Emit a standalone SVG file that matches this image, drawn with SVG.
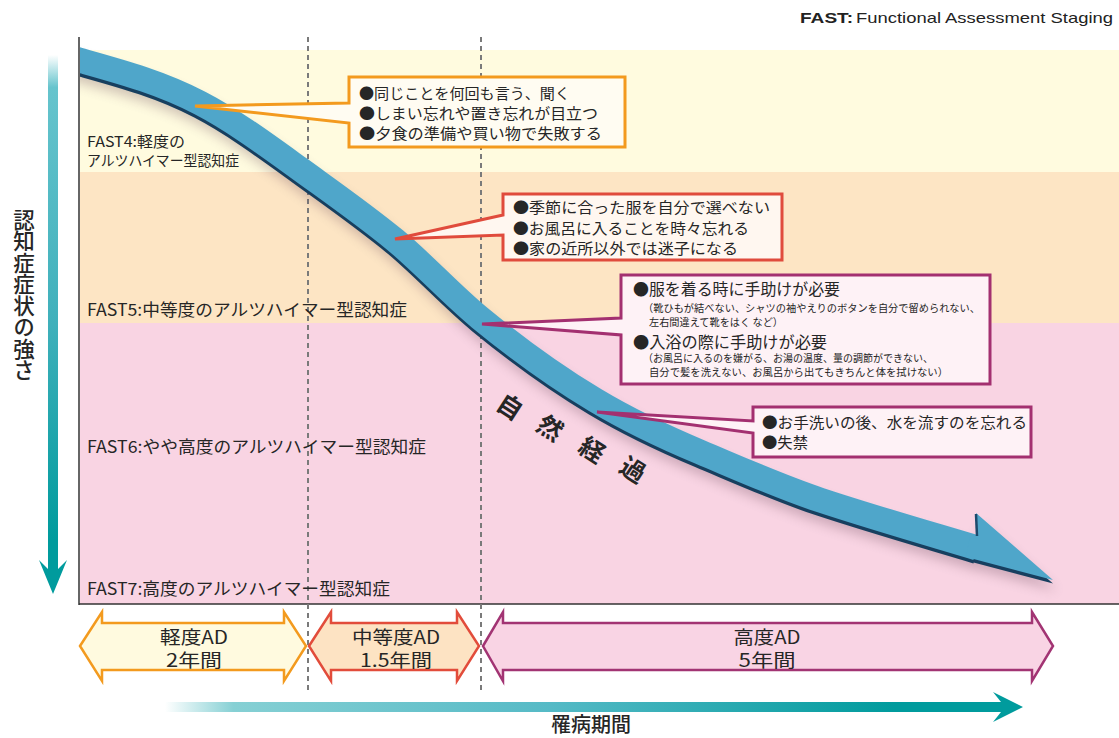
<svg xmlns="http://www.w3.org/2000/svg" width="1119" height="738" viewBox="0 0 1119 738">
<style>
.jp{font-family:'Noto Sans CJK JP','Noto Sans',sans-serif;fill:#262626}
.stage{font-size:17px}
.call{font-size:15px}
.sub{font-size:10.5px}
.rng{font-size:18px}
.dash{stroke:#7a7a7a;stroke-width:2;stroke-dasharray:5 4;fill:none}
</style>
<defs>
<linearGradient id="gv" x1="0" y1="55" x2="0" y2="594" gradientUnits="userSpaceOnUse">
<stop offset="0" stop-color="#ffffff"/>
<stop offset="0.06" stop-color="#66c4cd"/>
<stop offset="0.5" stop-color="#3fb0bb"/>
<stop offset="0.9" stop-color="#009b9d"/>
<stop offset="1" stop-color="#009b9d"/>
</linearGradient>
<linearGradient id="gh" x1="165" y1="0" x2="1023" y2="0" gradientUnits="userSpaceOnUse">
<stop offset="0" stop-color="#ffffff"/>
<stop offset="0.08" stop-color="#86d0d4"/>
<stop offset="0.45" stop-color="#55bac6"/>
<stop offset="0.85" stop-color="#009b9d"/>
<stop offset="1" stop-color="#009b9d"/>
</linearGradient>
<clipPath id="chart"><rect x="80" y="37" width="1039" height="566"/></clipPath>
<filter id="blur" x="-10%" y="-10%" width="120%" height="130%"><feGaussianBlur stdDeviation="6"/></filter>
<path id="curve" d="M60,54.5 L79,60 C119.3,71.3 159.7,82 200,103 C233.3,120.3 266.7,145 300,169 C331.7,192 363.3,214 395,240 C423.3,263.5 451.7,294.8 480,318 C518.3,349.4 556.7,377 595,400 C630,421 665,437.3 700,452 C740,468.8 780,486.8 820,500 C872.3,517.3 924.7,532.3 977,548"/>
<path id="head" d="M976,513 L1053,580 L966,557 L970,536 L977,536 Z"/>
</defs>

<!-- bands -->
<g id="bands">
<rect x="80" y="50" width="1039" height="122" fill="#fffbdf"/>
<rect x="80" y="172" width="1039" height="151" fill="#fde5c4"/>
<rect x="80" y="323" width="1039" height="281" fill="#f9d4e3"/>
</g>

<!-- axes -->
<g id="axes">
<line x1="79" y1="37" x2="79" y2="605" stroke="#333" stroke-width="1.5"/>
<line x1="79" y1="604" x2="1119" y2="604" stroke="#333" stroke-width="1.5"/>
<line class="dash" x1="308" y1="37" x2="308" y2="690"/>
<line class="dash" x1="481" y1="37" x2="481" y2="690"/>
</g>

<!-- stage labels -->
<g id="stages" class="jp">
<text x="87" y="147" font-size="14.5" textLength="98" lengthAdjust="spacingAndGlyphs">FAST4:軽度の</text>
<text x="87" y="166" font-size="14.5" textLength="152" lengthAdjust="spacingAndGlyphs">アルツハイマー型認知症</text>
<text class="stage" x="87" y="316" textLength="320" lengthAdjust="spacingAndGlyphs">FAST5:中等度のアルツハイマー型認知症</text>
<text class="stage" x="87" y="453" textLength="339" lengthAdjust="spacingAndGlyphs">FAST6:やや高度のアルツハイマー型認知症</text>
<text class="stage" x="87" y="595" textLength="303" lengthAdjust="spacingAndGlyphs">FAST7:高度のアルツハイマー型認知症</text>
</g>

<!-- natural course curve -->
<g id="course" clip-path="url(#chart)">
<g filter="url(#blur)" opacity="0.3" transform="translate(4,11)">
<use href="#curve" fill="none" stroke="#6b4a5a" stroke-width="25"/>
<use href="#head" fill="#6b4a5a"/>
</g>
<g transform="translate(0,3.5)">
<use href="#curve" fill="none" stroke="#173f5f" stroke-width="25"/>
<use href="#head" fill="#173f5f"/>
</g>
<use href="#curve" fill="none" stroke="#4fa6ca" stroke-width="25"/>
<use href="#head" fill="#4fa6ca"/>
<line x1="976" y1="514" x2="977" y2="536" stroke="#1d4a6c" stroke-width="2.5"/>
</g>

<g id="course-label" class="jp" font-size="25" font-weight="bold" fill="#1a1a1a" text-anchor="middle">
<text transform="translate(510,407) rotate(33)" y="9">自</text>
<text transform="translate(550,428) rotate(33)" y="9">然</text>
<text transform="translate(592,450) rotate(33)" y="9">経</text>
<text transform="translate(633,470) rotate(33)" y="9">過</text>
</g>

<!-- callouts (box + pointer) -->
<g id="callout-fast4">
<path d="M349,77 H625 V147 H349 V123 L195,106 L349,103 Z" fill="#fffcf2" stroke="#f39a1e" stroke-width="3" stroke-linejoin="miter"/>
<g class="jp call">
<text x="359" y="99" textLength="211" lengthAdjust="spacingAndGlyphs">●同じことを何回も言う、聞く</text>
<text x="359" y="119" textLength="239" lengthAdjust="spacingAndGlyphs">●しまい忘れや置き忘れが目立つ</text>
<text x="359" y="139" textLength="243" lengthAdjust="spacingAndGlyphs">●夕食の準備や買い物で失敗する</text>
</g>
</g>

<g id="callout-fast5">
<path d="M503,194 H782 V260 H503 V235 L395,239 L503,215 Z" fill="#fff7f0" stroke="#e04b3c" stroke-width="3"/>
<g class="jp call">
<text x="513" y="213" textLength="257" lengthAdjust="spacingAndGlyphs">●季節に合った服を自分で選べない</text>
<text x="513" y="234" textLength="236" lengthAdjust="spacingAndGlyphs">●お風呂に入ることを時々忘れる</text>
<text x="513" y="254" textLength="225" lengthAdjust="spacingAndGlyphs">●家の近所以外では迷子になる</text>
</g>
</g>

<g id="callout-fast6a">
<path d="M621,275 H990 V384 H621 V335 L482,324 L621,318 Z" fill="#fef2f6" stroke="#a33070" stroke-width="3"/>
<g class="jp">
<text class="call" x="633" y="295" font-size="16" textLength="207" lengthAdjust="spacingAndGlyphs" style="font-size:16px">●服を着る時に手助けが必要</text>
<text class="sub" x="643" y="312" textLength="337" lengthAdjust="spacingAndGlyphs">（靴ひもが結べない、シャツの袖やえりのボタンを自分で留められない、</text>
<text class="sub" x="649" y="326" textLength="134" lengthAdjust="spacingAndGlyphs">左右間違えて靴をはく など）</text>
<text class="call" x="633" y="348" textLength="194" lengthAdjust="spacingAndGlyphs" style="font-size:16px">●入浴の際に手助けが必要</text>
<text class="sub" x="643" y="362" textLength="290" lengthAdjust="spacingAndGlyphs">（お風呂に入るのを嫌がる、お湯の温度、量の調節ができない、</text>
<text class="sub" x="649" y="376" textLength="299" lengthAdjust="spacingAndGlyphs">自分で髪を洗えない、お風呂から出てもきちんと体を拭けない）</text>
</g>
</g>

<g id="callout-fast6b">
<path d="M753,407 H1031 V457 H753 V433 L597,412 L753,421 Z" fill="#fef2f6" stroke="#a33070" stroke-width="3"/>
<g class="jp call">
<text x="762" y="428" textLength="265" lengthAdjust="spacingAndGlyphs">●お手洗いの後、水を流すのを忘れる</text>
<text x="762" y="448" textLength="46" lengthAdjust="spacingAndGlyphs">●失禁</text>
</g>
</g>

<!-- vertical axis arrow and label -->
<g id="y-axis-arrow">
<rect x="48" y="55" width="10" height="517" fill="url(#gv)"/>
<path d="M39,560 L48,569 L58,569 L67,560 L53,594 Z" fill="#009b9d"/>
</g>
<text id="y-label" class="jp" x="24" y="209" font-size="21.5" font-weight="500" style="writing-mode:vertical-rl" fill="#222">認知症症状の強さ</text>

<!-- duration arrows -->
<g id="range-mild">
<path d="M80,646 L102,612 L102,623 L284,623 L284,612 L306,646 L284,681 L284,670 L102,670 L102,681 Z" fill="#fffadf" stroke="#f39a1e" stroke-width="2.5" stroke-linejoin="miter"/>
<g class="jp rng" text-anchor="middle">
<text x="194" y="644" textLength="68" lengthAdjust="spacingAndGlyphs">軽度AD</text>
<text x="194" y="667" textLength="56" lengthAdjust="spacingAndGlyphs">2年間</text>
</g>
</g>
<g id="range-moderate">
<path d="M309,646 L331,612 L331,623 L457,623 L457,612 L479,646 L457,681 L457,670 L331,670 L331,681 Z" fill="#fde3c3" stroke="#e24c3b" stroke-width="2.5"/>
<g class="jp rng" text-anchor="middle">
<text x="396" y="644" textLength="88" lengthAdjust="spacingAndGlyphs">中等度AD</text>
<text x="396" y="667" textLength="72" lengthAdjust="spacingAndGlyphs">1.5年間</text>
</g>
</g>
<g id="range-severe">
<path d="M483,646 L503,612 L503,623 L1032,623 L1032,612 L1053,646 L1032,681 L1032,670 L503,670 L503,681 Z" fill="#f9d4e4" stroke="#a23473" stroke-width="2.5"/>
<g class="jp rng" text-anchor="middle">
<text x="767" y="644" textLength="67" lengthAdjust="spacingAndGlyphs">高度AD</text>
<text x="767" y="667" textLength="57" lengthAdjust="spacingAndGlyphs">5年間</text>
</g>
</g>

<!-- horizontal axis arrow and label -->
<g id="x-axis-arrow">
<rect x="165" y="702" width="836" height="10" fill="url(#gh)"/>
<path d="M993,692 L1023,707 L993,722 L1001,712 L1001,702 Z" fill="#009b9d"/>
</g>
<text id="x-label" class="jp" x="591" y="732" font-size="20" font-weight="500" text-anchor="middle" fill="#222">罹病期間</text>

<!-- title -->
<g id="title">
<text x="800" y="23" font-family="'Liberation Sans',Arial,sans-serif" font-size="15" font-weight="bold" fill="#222" textLength="53" lengthAdjust="spacingAndGlyphs">FAST:</text>
<text x="856" y="23" font-family="'Liberation Sans',Arial,sans-serif" font-size="15" fill="#222" textLength="257" lengthAdjust="spacingAndGlyphs">Functional Assessment Staging</text>
</g>
</svg>
